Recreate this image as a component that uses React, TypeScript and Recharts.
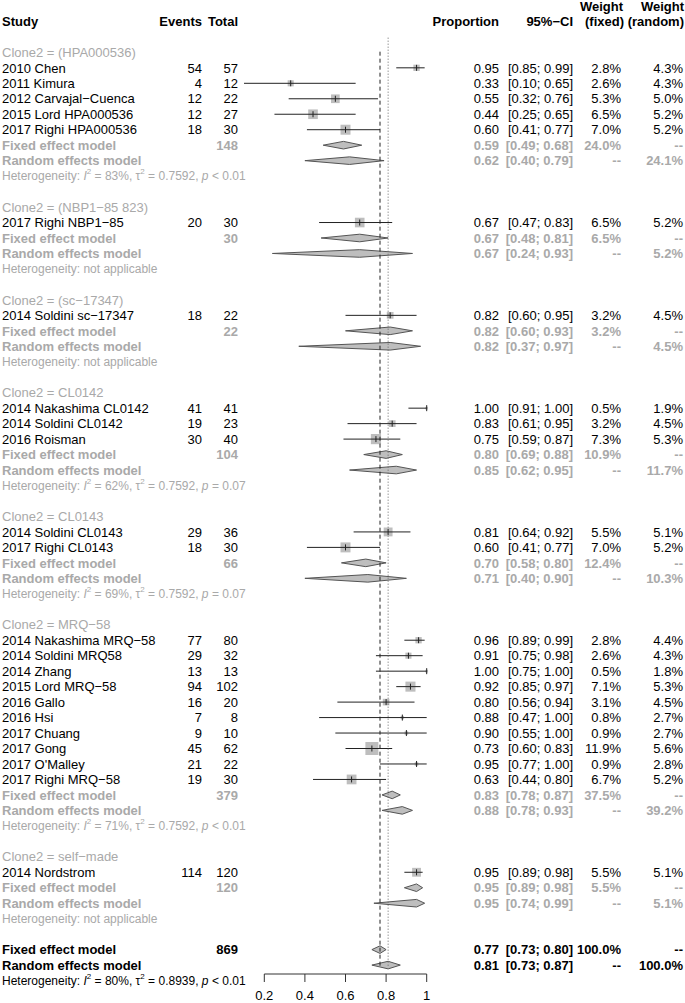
import { ComposedChart, Bar, XAxis, YAxis, ReferenceLine } from "recharts";

const FONT = "'Liberation Sans', Arial, sans-serif";
const GRAY = "#a9a9a9";

// subgroups (Clone2)
const GROUPS = ["(HPA000536)", "(NBP1\u221285 823)", "(sc\u221217347)", "CL0142", "CL0143", "MRQ\u221258", "self\u2212made"];

// individual studies
const STUDY_GROUP = [0, 0, 0, 0, 0, 1, 2, 3, 3, 3, 4, 4, 5, 5, 5, 5, 5, 5, 5, 5, 5, 5, 6];
const STUDIES = [
  "2010 Chen", "2011 Kimura", "2012 Carvajal\u2212Cuenca", "2015 Lord HPA000536", "2017 Righi HPA000536",
  "2017 Righi NBP1\u221285",
  "2014 Soldini sc\u221217347",
  "2014 Nakashima CL0142", "2014 Soldini CL0142", "2016 Roisman",
  "2014 Soldini CL0143", "2017 Righi CL0143",
  "2014 Nakashima MRQ\u221258", "2014 Soldini MRQ58", "2014 Zhang", "2015 Lord MRQ\u221258", "2016 Gallo",
  "2016 Hsi", "2017 Chuang", "2017 Gong", "2017 O'Malley", "2017 Righi MRQ\u221258",
  "2014 Nordstrom",
];
const EVENTS = [54, 4, 12, 12, 18, 20, 18, 41, 19, 30, 29, 18, 77, 29, 13, 94, 16, 7, 9, 45, 21, 19, 114];
const TOTALS = [57, 12, 22, 27, 30, 30, 22, 41, 23, 40, 36, 30, 80, 32, 13, 102, 20, 8, 10, 62, 22, 30, 120];
const PROP = [0.95, 0.33, 0.55, 0.44, 0.6, 0.67, 0.82, 1.0, 0.83, 0.75, 0.81, 0.6, 0.96, 0.91, 1.0, 0.92, 0.8, 0.88, 0.9, 0.73, 0.95, 0.63, 0.95];
const LOWER = [0.85, 0.1, 0.32, 0.25, 0.41, 0.47, 0.6, 0.91, 0.61, 0.59, 0.64, 0.41, 0.89, 0.75, 0.75, 0.85, 0.56, 0.47, 0.55, 0.6, 0.77, 0.44, 0.89];
const UPPER = [0.99, 0.65, 0.76, 0.65, 0.77, 0.83, 0.95, 1.0, 0.95, 0.87, 0.92, 0.77, 0.99, 0.98, 1.0, 0.97, 0.94, 1.0, 1.0, 0.83, 1.0, 0.8, 0.98];
const W_FIXED = [2.8, 2.6, 5.3, 6.5, 7.0, 6.5, 3.2, 0.5, 3.2, 7.3, 5.5, 7.0, 2.8, 2.6, 0.5, 7.1, 3.1, 0.8, 0.9, 11.9, 0.9, 6.7, 5.5];
const W_RANDOM = [4.3, 4.3, 5.0, 5.2, 5.2, 5.2, 4.5, 1.9, 4.5, 5.3, 5.1, 5.2, 4.4, 4.3, 1.8, 5.3, 4.5, 2.7, 2.7, 5.6, 2.8, 5.2, 5.1];

// subgroup summaries
const SUB_TOTAL = [148, 30, 22, 104, 66, 379, 120];
const SUB_FIXED = [0.59, 0.67, 0.82, 0.8, 0.7, 0.83, 0.95];
const SUB_FIXED_LO = [0.49, 0.48, 0.6, 0.69, 0.58, 0.78, 0.89];
const SUB_FIXED_HI = [0.68, 0.81, 0.93, 0.88, 0.8, 0.87, 0.98];
const SUB_FIXED_W = [24.0, 6.5, 3.2, 10.9, 12.4, 37.5, 5.5];
const SUB_RANDOM = [0.62, 0.67, 0.82, 0.85, 0.71, 0.88, 0.95];
const SUB_RANDOM_LO = [0.4, 0.24, 0.37, 0.62, 0.4, 0.78, 0.74];
const SUB_RANDOM_HI = [0.79, 0.93, 0.97, 0.95, 0.9, 0.93, 0.99];
const SUB_RANDOM_W = [24.1, 5.2, 4.5, 11.7, 10.3, 39.2, 5.1];
const SUB_I2 = [83, null, null, 62, 69, 71, null];
const SUB_TAU2 = ["0.7592", null, null, "0.7592", "0.7592", "0.7592", null];
const SUB_P = ["< 0.01", null, null, "= 0.07", "= 0.07", "< 0.01", null];

// overall
const OVERALL_TOTAL = 869;
const OVERALL_FIXED = [0.77, 0.73, 0.8];
const OVERALL_RANDOM = [0.81, 0.73, 0.87];
const OVERALL_I2 = 80;
const OVERALL_TAU2 = "0.8939";
const OVERALL_P = "< 0.01";

const AXIS_TICKS = [0.2, 0.4, 0.6, 0.8, 1];

type Row = {
  id: string;
  kind: string;
  label?: string;
  events?: number;
  total?: number;
  est?: number;
  lo?: number;
  hi?: number;
  wf?: number | null;
  wr?: number | null;
  i2?: number | null;
  tau2?: string | null;
  p?: string | null;
  overall?: boolean;
};

const rows: Row[] = [];
rows.push({ id: "head", kind: "header" });
rows.push({ id: "b0", kind: "blank" });
GROUPS.forEach((g, gi) => {
  if (gi > 0) rows.push({ id: `b${gi}`, kind: "blank" });
  rows.push({ id: `g${gi}`, kind: "group", label: `Clone2 = ${g}` });
  STUDIES.forEach((s, i) => {
    if (STUDY_GROUP[i] !== gi) return;
    rows.push({
      id: `s${i}`, kind: "study", label: s, events: EVENTS[i], total: TOTALS[i],
      est: PROP[i], lo: LOWER[i], hi: UPPER[i], wf: W_FIXED[i], wr: W_RANDOM[i],
    });
  });
  rows.push({
    id: `f${gi}`, kind: "fixed", label: "Fixed effect model", total: SUB_TOTAL[gi],
    est: SUB_FIXED[gi], lo: SUB_FIXED_LO[gi], hi: SUB_FIXED_HI[gi], wf: SUB_FIXED_W[gi], wr: null,
  });
  rows.push({
    id: `r${gi}`, kind: "random", label: "Random effects model",
    est: SUB_RANDOM[gi], lo: SUB_RANDOM_LO[gi], hi: SUB_RANDOM_HI[gi], wf: null, wr: SUB_RANDOM_W[gi],
  });
  rows.push({ id: `h${gi}`, kind: "het", i2: SUB_I2[gi], tau2: SUB_TAU2[gi], p: SUB_P[gi] });
});
rows.push({ id: "bo", kind: "blank" });
rows.push({
  id: "fo", kind: "fixed", overall: true, label: "Fixed effect model", total: OVERALL_TOTAL,
  est: OVERALL_FIXED[0], lo: OVERALL_FIXED[1], hi: OVERALL_FIXED[2], wf: 100, wr: null,
});
rows.push({
  id: "ro", kind: "random", overall: true, label: "Random effects model",
  est: OVERALL_RANDOM[0], lo: OVERALL_RANDOM[1], hi: OVERALL_RANDOM[2], wf: null, wr: 100,
});
rows.push({ id: "ho", kind: "het", overall: true, i2: OVERALL_I2, tau2: OVERALL_TAU2, p: OVERALL_P });

const ROW_BY_ID: Record<string, Row> = Object.fromEntries(rows.map((r) => [r.id, r]));
const firstGroupIdx = rows.findIndex((r) => r.kind === "group");
const fixedOverallIdx = rows.findIndex((r) => r.id === "fo");
const randomOverallIdx = rows.findIndex((r) => r.id === "ro");

const COL = { study: 2, events: 202, total: 238, prop: 499, ci: 573, wf: 621, wr: 683 };

const pct = (w: number | null | undefined) => (w == null ? "--" : `${w.toFixed(1)}%`);

function RowTick(props: any) {
  const { y, payload } = props;
  const r = ROW_BY_ID[payload.value];
  if (!r || r.kind === "blank") return <g />;
  const base = { fontFamily: FONT, fontSize: 13, dominantBaseline: "central" as const };

  if (r.kind === "header") {
    const h = { ...base, fontWeight: "bold", fill: "#000" };
    return (
      <g>
        <text {...h} x={COL.study} y={y}>Study</text>
        <text {...h} x={COL.events} y={y} textAnchor="end">Events</text>
        <text {...h} x={COL.total} y={y} textAnchor="end">Total</text>
        <text {...h} x={COL.prop} y={y} textAnchor="end">Proportion</text>
        <text {...h} x={COL.ci} y={y} textAnchor="end">95%{"\u2212"}CI</text>
        <text {...h} x={COL.wf + 2} y={y - 15.5} textAnchor="end">Weight</text>
        <text {...h} x={COL.wf + 3} y={y} textAnchor="end">(fixed)</text>
        <text {...h} x={COL.wr + 1} y={y - 15.5} textAnchor="end">Weight</text>
        <text {...h} x={COL.wr + 1} y={y} textAnchor="end">(random)</text>
      </g>
    );
  }

  if (r.kind === "group") {
    return <text {...base} x={COL.study} y={y} fill={GRAY}>{r.label}</text>;
  }

  if (r.kind === "het") {
    const fill = r.overall ? "#000" : GRAY;
    const hs = { ...base, fontSize: 12, fill };
    if (r.i2 == null) {
      return <text {...hs} x={COL.study} y={y}>Heterogeneity: not applicable</text>;
    }
    return (
      <text {...hs} x={COL.study} y={y}>
        Heterogeneity: <tspan fontStyle="italic">I</tspan>
        <tspan fontSize={8} dy={-5}>2</tspan>
        <tspan dy={5}> = {r.i2}%, {"\u03c4"}</tspan>
        <tspan fontSize={8} dy={-5}>2</tspan>
        <tspan dy={5}> = {r.tau2}, </tspan>
        <tspan fontStyle="italic">p</tspan>
        <tspan> {r.p}</tspan>
      </text>
    );
  }

  const isModel = r.kind === "fixed" || r.kind === "random";
  const fill = r.kind === "study" || r.overall ? "#000" : GRAY;
  const t = { ...base, fill, fontWeight: isModel ? "bold" : "normal" };
  return (
    <g>
      <text {...t} x={COL.study} y={y}>{r.label}</text>
      {r.events != null && <text {...t} x={COL.events} y={y} textAnchor="end">{r.events}</text>}
      {r.total != null && <text {...t} x={COL.total} y={y} textAnchor="end">{r.total}</text>}
      <text {...t} x={COL.prop} y={y} textAnchor="end">{r.est!.toFixed(2)}</text>
      <text {...t} x={COL.ci} y={y} textAnchor="end">[{r.lo!.toFixed(2)}; {r.hi!.toFixed(2)}]</text>
      <text {...t} x={COL.wf} y={y} textAnchor="end">{pct(r.wf)}</text>
      <text {...t} x={COL.wr} y={y} textAnchor="end">{pct(r.wr)}</text>
    </g>
  );
}

// draws CI line + square for studies, diamonds for pooled estimates
function Mark(props: any) {
  const { x, y, width, height, payload } = props;
  if (!payload || payload.est == null || !(width > 0)) return <g />;
  const cy = y + height / 2;
  const px = (v: number) => x + ((v - payload.lo) / (payload.hi - payload.lo)) * width;
  const ex = px(payload.est);
  if (payload.kind === "study") {
    const side = 3.77 * Math.sqrt(payload.wf);
    return (
      <g>
        <rect x={ex - side / 2} y={cy - side / 2} width={side} height={side} fill="#bebebe" />
        <line x1={x} x2={x + width} y1={cy} y2={cy} stroke="#222" strokeWidth={1} />
        <line x1={ex} x2={ex} y1={cy - 3} y2={cy + 3} stroke="#222" strokeWidth={1} />
      </g>
    );
  }
  const h = 3.8;
  return (
    <polygon
      points={`${x},${cy} ${ex},${cy - h} ${x + width},${cy} ${ex},${cy + h}`}
      fill="#bebebe"
      stroke="#555"
      strokeWidth={1}
    />
  );
}

const ROW_H = 15.47;
const PLOT_TOP = 13.87;
const PLOT_BOTTOM = PLOT_TOP + rows.length * ROW_H;

export default function App() {
  return (
    <div style={{ position: "relative", width: 685, height: 1003, background: "#fff" }}>
      <style>{"body{margin:0}"}</style>
      <ComposedChart
        width={685}
        height={1003}
        layout="vertical"
        data={rows}
        margin={{ top: PLOT_TOP, bottom: 1003 - PLOT_BOTTOM, left: 0, right: 217.7 }}
      >
        <XAxis type="number" domain={[0, 1.2]} hide />
        <YAxis
          yAxisId="rows"
          type="category"
          dataKey="id"
          width={223.7}
          interval={0}
          tickLine={false}
          axisLine={false}
          tick={<RowTick />}
        />
        <YAxis yAxisId="ref" type="number" domain={[-0.5, rows.length - 0.5]} reversed hide />
        <ReferenceLine
          yAxisId="ref"
          segment={[{ x: OVERALL_FIXED[0], y: firstGroupIdx - 0.55 }, { x: OVERALL_FIXED[0], y: fixedOverallIdx - 0.4 }]}
          stroke="#222"
          strokeDasharray="4 3"
        />
        <ReferenceLine
          yAxisId="ref"
          segment={[{ x: OVERALL_RANDOM[0], y: firstGroupIdx - 0.55 }, { x: OVERALL_RANDOM[0], y: randomOverallIdx - 0.4 }]}
          stroke="#666"
          strokeDasharray="1 2"
        />
        <Bar
          yAxisId="rows"
          dataKey={(r: Row) => (r.est != null ? [r.lo, r.hi] : null)}
          shape={<Mark />}
          isAnimationActive={false}
        />
      </ComposedChart>
      <div style={{ position: "absolute", left: 0, top: 0, pointerEvents: "none" }}>
        <ComposedChart
          width={685}
          height={1003}
          data={AXIS_TICKS.map((t) => ({ t }))}
          margin={{ top: 0, left: 264.3, right: 258.3, bottom: 0 }}
        >
          <XAxis
            type="number"
            dataKey="t"
            domain={[0.2, 1]}
            ticks={AXIS_TICKS}
            height={29}
            tickSize={8}
            tickMargin={9}
            stroke="#333"
            tick={{ fill: "#000", fontSize: 13, fontFamily: FONT }}
            tickFormatter={(v: number) => String(v)}
          />
          <YAxis hide />
        </ComposedChart>
      </div>
    </div>
  );
}
